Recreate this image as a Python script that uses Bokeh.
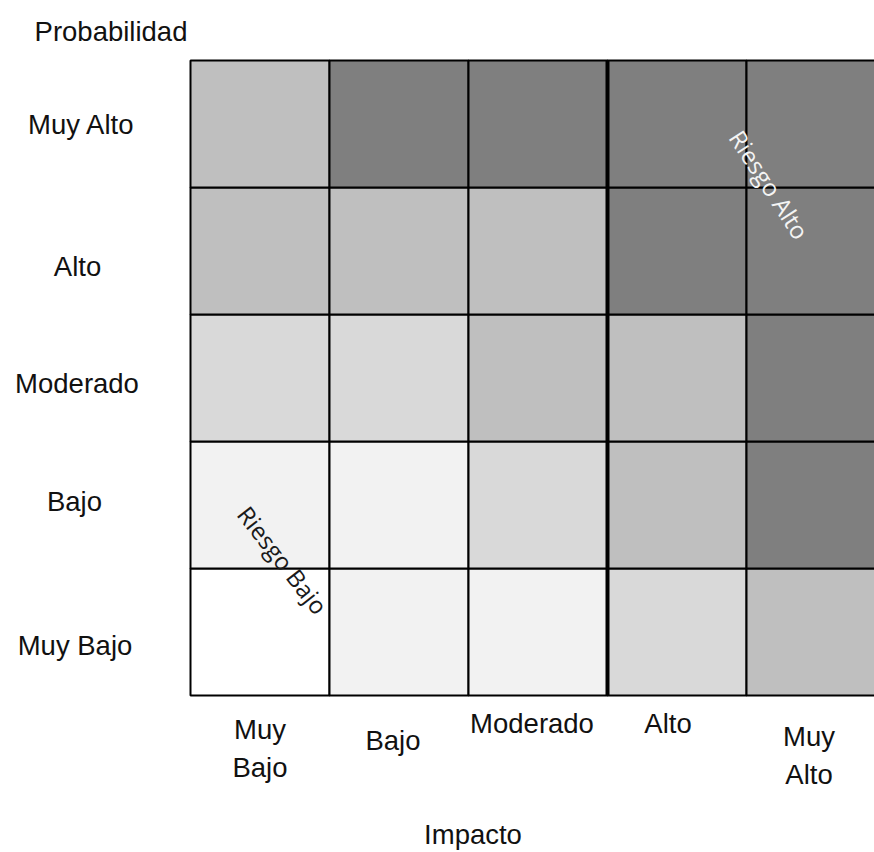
import math
from bokeh.plotting import figure
from bokeh.models import Range1d, ColumnDataSource
from bokeh.core.properties import value
from bokeh.embed import file_html
from bokeh.resources import INLINE

# ---------------- data ----------------
impact_levels = ["Muy Bajo", "Bajo", "Moderado", "Alto", "Muy Alto"]
impact_labels = ["Muy\nBajo", "Bajo", "Moderado", "Alto", "Muy\nAlto"]
prob_levels = ["Muy Bajo", "Bajo", "Moderado", "Alto", "Muy Alto"]  # bottom -> top

# risk level per cell, rows listed from top (Muy Alto) to bottom (Muy Bajo)
risk_muy_alto = [3, 4, 4, 4, 4]
risk_alto = [3, 3, 3, 4, 4]
risk_moderado = [2, 2, 3, 3, 4]
risk_bajo = [1, 1, 2, 3, 4]
risk_muy_bajo = [0, 1, 1, 2, 3]
risk_rows = [risk_muy_bajo, risk_bajo, risk_moderado, risk_alto, risk_muy_alto]  # bottom -> top

level_colors = ["#ffffff", "#f2f2f2", "#d9d9d9", "#bfbfbf", "#7f7f7f"]

x_title = "Impacto"
y_title = "Probabilidad"
low_label = "Riesgo Bajo"
high_label = "Riesgo Alto"

# ---------------- layout ----------------
W, H = 874, 852
X0, CW = 190, 139      # px of grid left, column width
Y0, RH = 60, 127       # px of grid top, row height
NR = len(prob_levels)

def dx(px):
    return (px - X0) / CW

def dy(py):
    return NR - (py - Y0) / RH

p = figure(width=W, height=H, output_backend="svg", toolbar_location=None,
           x_range=Range1d(dx(0), dx(W)), y_range=Range1d(dy(H), dy(0)),
           x_axis_location=None, y_axis_location=None, min_border=0,
           outline_line_color=None, background_fill_color="white",
           border_fill_color="white")
p.xgrid.visible = False
p.ygrid.visible = False

# cells
left, right, bottom, top, fill = [], [], [], [], []
for j, row in enumerate(risk_rows):
    for i, lvl in enumerate(row):
        left.append(i); right.append(i + 1)
        bottom.append(j); top.append(j + 1)
        fill.append(level_colors[lvl])
cells = ColumnDataSource(dict(left=left, right=right, bottom=bottom, top=top, fill=fill))
p.quad(left="left", right="right", bottom="bottom", top="top", fill_color="fill",
       line_color="black", line_width=2, source=cells)

# thicker divider before "Alto" impact
k = impact_levels.index("Alto")
p.segment(x0=[k], y0=[0], x1=[k], y1=[NR], line_color="black", line_width=4)

font = value("Liberation Sans")
fs = "27.5px"

# left (probability) labels
left_cx = [74.5, 74, 76.5, 77, 81]
left_off = [13, -4, 5, 15, 0]
p.text(x=[dx(c) for c in left_cx], y=[j + 0.5 for j in range(NR)], text=prob_levels,
       y_offset=left_off, text_align="center", text_baseline="middle",
       text_font=font, text_font_size=fs, text_color="#111111")

# bottom (impact) labels
bot_xoff = [0, -6, -6, -9, -7]
bot_cy = [748, 740, 723, 723, 755]
p.text(x=[i + 0.5 for i in range(len(impact_levels))], y=[dy(c) for c in bot_cy],
       text=impact_labels, x_offset=bot_xoff, text_align="center", text_baseline="middle",
       text_font=font, text_font_size=fs, text_color="#111111", text_line_height=1.2)

# axis titles
p.text(x=[dx(110.5)], y=[dy(31)], text=[y_title], text_align="center", text_baseline="middle",
       text_font=font, text_font_size=fs, text_color="#111111")
p.text(x=[dx(472.5)], y=[dy(834)], text=[x_title], text_align="center", text_baseline="middle",
       text_font=font, text_font_size=fs, text_color="#111111")

# diagonal annotations
p.text(x=[dx(282.5)], y=[dy(559.5)], text=[low_label], angle=math.radians(-52),
       text_align="center", text_baseline="middle", text_font=value("Open Sans"),
       text_font_size="24px", text_color="#1a1a1a")
p.text(x=[dx(769)], y=[dy(184)], text=[high_label], angle=math.radians(-57),
       text_align="center", text_baseline="middle", text_font=value("Open Sans"),
       text_font_size="24px", text_color="#f4f4f4")

open("out.html", "w").write(file_html(p, INLINE))
